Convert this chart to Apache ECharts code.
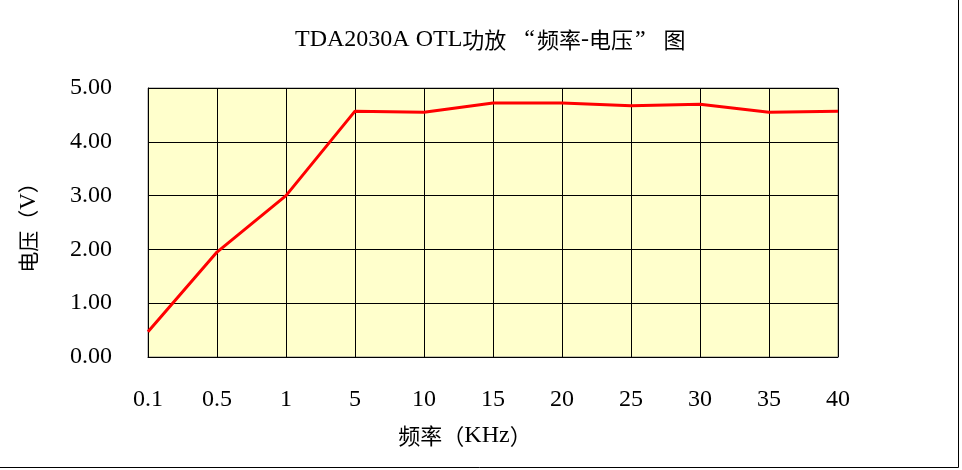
<!DOCTYPE html>
<html><head><meta charset="utf-8">
<script src="https://cdn.jsdelivr.net/npm/echarts@6/dist/echarts.min.js"></script>
<style>html,body{margin:0;padding:0;background:#fff}#c{width:962px;height:470px}</style>
</head><body><div id="c"></div>
<script>
const titleText = '{a|TDA2030A OTL}{c|功放}{ql|“}{c|频率}{a|-}{c|电压}{qr|”}{c|图}';
const categories = ['0.1','0.5','1','5','10','15','20','25','30','35','40'];
const voltage = [0.47, 1.95, 3.00, 4.57, 4.55, 4.72, 4.72, 4.67, 4.70, 4.55, 4.57];
const xName = '{c|频率（}{a|KHz}{c|）}';
const yName = '{c|电压（}{a|V}{c|）}';
const SERIF = '"Liberation Serif", "DejaVu Serif", serif';
const CJK = '"Noto Sans CJK SC", sans-serif';
const rich = (size, lat) => ({
  a: { fontFamily: SERIF, fontSize: lat || size, color: '#000' },
  c: { fontFamily: CJK, fontSize: size, color: '#000' },
  ql: { fontFamily: SERIF, fontSize: lat || size, color: '#000', padding: [0, 2, 0, 18] },
  qr: { fontFamily: SERIF, fontSize: lat || size, color: '#000', padding: [0, 18, 0, 2] }
});
const chart = echarts.init(document.getElementById('c'));
chart.setOption({
  animation: false,
  backgroundColor: '#fff',
  graphic: [
    { type: 'text', left: 295, top: 28, style: { text: titleText, rich: rich(22, 24) } },
    { type: 'line', shape: { x1: 958.5, y1: 0, x2: 958.5, y2: 467.5 }, style: { stroke: '#000', lineWidth: 1 } },
    { type: 'line', shape: { x1: 0, y1: 467.5, x2: 958.5, y2: 467.5 }, style: { stroke: '#000', lineWidth: 1 } }
  ],
  grid: { left: 148, right: 124, top: 88, bottom: 113, show: true,
    backgroundColor: '#FFFFCC', borderColor: '#888', borderWidth: 1 },
  xAxis: {
    type: 'category', data: categories, boundaryGap: false,
    name: xName, nameLocation: 'middle', nameGap: 67,
    nameTextStyle: { rich: rich(22, 24), padding: [0, 56, 0, 0] },
    axisLine: { lineStyle: { color: '#000', width: 1 } },
    axisTick: { show: false },
    axisLabel: { fontFamily: SERIF, fontSize: 24, color: '#000', margin: 31 },
    splitLine: { show: true, lineStyle: { color: '#000', width: 1 } }
  },
  yAxis: {
    type: 'value', min: 0, max: 5, interval: 1,
    name: yName, nameLocation: 'middle', nameGap: 108, nameRotate: 90,
    nameTextStyle: { rich: rich(21, 23) },
    axisLine: { show: true, lineStyle: { color: '#000', width: 1 } },
    axisTick: { show: false },
    axisLabel: { fontFamily: SERIF, fontSize: 24, color: '#000', margin: 36,
      formatter: v => v.toFixed(2) },
    splitLine: { show: true, lineStyle: { color: '#000', width: 1 } }
  },
  series: [{
    type: 'line', data: voltage, showSymbol: false, symbol: 'none',
    lineStyle: { color: '#FF0000', width: 3 }
  }]
});
</script></body></html>
